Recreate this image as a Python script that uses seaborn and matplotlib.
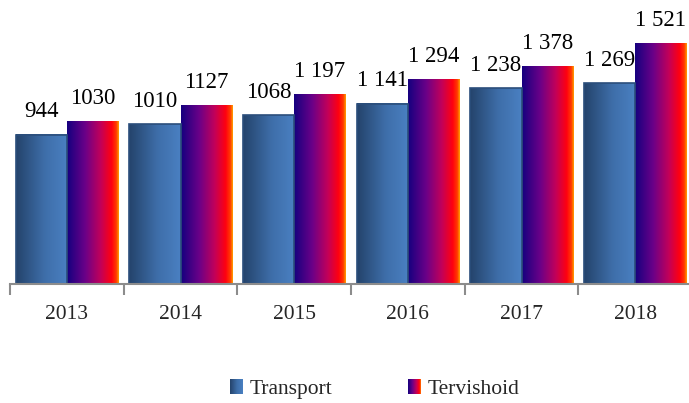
import seaborn as sns
import matplotlib.pyplot as plt
import numpy as np
import pandas as pd
from matplotlib.colors import LinearSegmentedColormap
from matplotlib.patches import Patch

sns.set_style("white")
serif = ['Liberation Serif', 'DejaVu Serif']
plt.rcParams['font.family'] = serif

years = ["2013", "2014", "2015", "2016", "2017", "2018"]
transport = [944, 1010, 1068, 1141, 1238, 1269]
tervishoid = [1030, 1127, 1197, 1294, 1378, 1521]
transport_labels = ["944", "1010", "1068", "1 141", "1 238", "1 269"]
tervishoid_labels = ["1030", "1127", "1 197", "1 294", "1 378", "1 521"]
series = ["Transport", "Tervishoid"]

df = pd.DataFrame({
    "aasta": years * 2,
    "kulu": transport + tervishoid,
    "grupp": [series[0]] * len(years) + [series[1]] * len(years),
})

# gradients like the original office chart
cmap_tr = LinearSegmentedColormap.from_list(
    "tr", [(0, "#24436b"), (0.55, "#3e6ea9"), (1, "#4a80c2")])
cmap_te = LinearSegmentedColormap.from_list(
    "te", [(0, "#15007f"), (0.35, "#6a0088"), (0.65, "#c2005a"),
           (0.86, "#ff0010"), (0.95, "#ff3a00"), (1, "#ffa000")])
cmaps = [cmap_tr, cmap_te]
edges = ["#2b4e7b", "none"]

fig = plt.figure(figsize=(6.89, 4.03), dpi=100)
ax = fig.add_axes([0.0145, 0.2953, 0.99, 0.7047])

sns.barplot(data=df, x="aasta", y="kulu", hue="grupp", hue_order=series,
            width=0.9, gap=0, legend=False, ax=ax, errorbar=None)

grad = np.linspace(0, 1, 256).reshape(1, -1)
for cont, cm, ec, labels in zip(ax.containers, cmaps, edges,
                                [transport_labels, tervishoid_labels]):
    for bar, lab in zip(cont, labels):
        x0, w, h = bar.get_x(), bar.get_width(), bar.get_height()
        ax.imshow(grad, extent=[x0, x0 + w, 0, h], aspect="auto",
                  cmap=cm, zorder=2, interpolation="bilinear")
        bar.set_facecolor("none")
        bar.set_edgecolor(ec)
        bar.set_linewidth(1.2)
        bar.set_zorder(3)
        ax.annotate(lab, (x0 + w / 2, h), xytext=(0, 9),
                    textcoords="offset points", ha="center", va="bottom",
                    fontsize=16.5, color="black", family=serif)

ax.set_xlim(-0.5, len(years) - 0.5)
ax.set_ylim(0, 1797)
ax.set_xlabel("")
ax.set_ylabel("")
ax.set_yticks([])
sns.despine(ax=ax, left=True, top=True, right=True)
ax.spines["bottom"].set_color("#8c8c8c")
ax.spines["bottom"].set_linewidth(1.5)
ax.spines["bottom"].set_zorder(4)
ax.set_xticks(np.arange(len(years) + 1) - 0.5, minor=True)
ax.tick_params(axis="x", which="minor", bottom=True, length=8, width=1.5,
               color="#8c8c8c", direction="out")
ax.tick_params(axis="x", which="major", length=0, pad=15, labelsize=15.5)
for t in ax.get_xticklabels():
    t.set_family(serif)

handles = [Patch(facecolor="none", edgecolor="none", label=series[0]),
           Patch(facecolor="none", edgecolor="none", label=series[1])]
leg = fig.legend(handles=handles, loc="center", bbox_to_anchor=(0.544, 0.035),
                 ncol=2, frameon=False, handlelength=0.6,
                 handleheight=0.7, handletextpad=0.3, columnspacing=3.5,
                 prop={"family": serif, "size": 15.5})

# gradient squares in the legend
fig.canvas.draw()
for h, cm in zip(leg.legend_handles, cmaps):
    bb = h.get_window_extent().transformed(fig.transFigure.inverted())
    lax = fig.add_axes([bb.x0, bb.y0, bb.width, bb.height])
    lax.imshow(grad, aspect="auto", cmap=cm)
    lax.axis("off")
    lax.set_zorder(10)

fig.savefig("out.png", dpi=100)
